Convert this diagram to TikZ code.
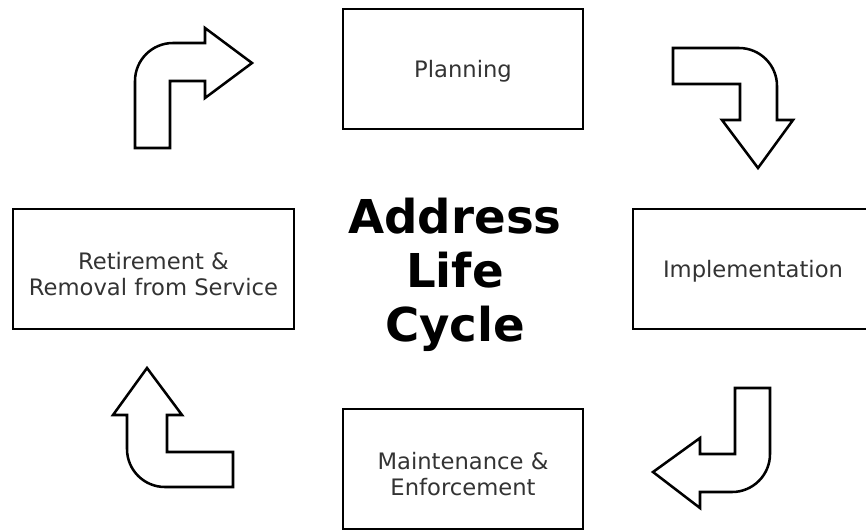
\documentclass[tikz,border=0pt]{standalone}
\usepackage{fontspec}
\setmainfont{DejaVu Sans}

\begin{document}
\begin{tikzpicture}[
    x=0.75pt, y=-0.75pt,
    stage/.style={rectangle, draw, line width=1.5pt, minimum width=180pt, minimum height=90pt, inner sep=0pt, align=center, text=black!80, text depth=-5pt, font=\fontsize{17}{20}\selectfont},
    bentarrow/.style={draw, line width=1.9pt, line join=miter, fill=white}
]
\useasboundingbox (0,0) rectangle (866,529);

% Title in the middle
\node[font=\fontsize{35}{40.5}\selectfont\bfseries, align=center] (title) at (455,275) {Address\\Life\\Cycle};

% Stages of the cycle
\node[stage] (planning) at (463,68.5) {Planning};
\node[stage] (implementation) at (753,268.5) {Implementation};
\node[stage] (maintenance) at (463,469) {\rule{0pt}{20pt}Maintenance \&\\Enforcement};
\node[stage, minimum width=210.75pt] (retirement) at (153.5,269) {\rule{0pt}{20pt}Retirement \&\\Removal from Service};

% Bent arrows between the stages
% top left: up, then right
\path[bentarrow] (170,148) -- (170,81) -- (205,81) -- (205,98) -- (252,63) -- (205,28) -- (205,43)
    -- (173,43) .. controls (152,43) and (135,60) .. (135,81) -- (135,148) -- cycle;

% top right: right, then down
\path[bentarrow] (673,48) -- (739,48) .. controls (760,48) and (777,65) .. (777,86) -- (777,120)
    -- (793,120) -- (758,168) -- (722,120) -- (740,120) -- (740,84) -- (673,84) -- cycle;

% bottom right: down, then left
\path[bentarrow] (735,388) -- (770,388) -- (770,454) .. controls (770,475) and (753,492) .. (732,492)
    -- (700,492) -- (700,508) -- (653,472) -- (700,438) -- (700,454) -- (735,454) -- cycle;

% bottom left: left, then up
\path[bentarrow] (233,452) -- (233,487) -- (165,487) .. controls (144,487) and (127,470) .. (127,449)
    -- (127,415) -- (113,415) -- (147,368) -- (182,415) -- (167,415) -- (167,452) -- cycle;

\end{tikzpicture}
\end{document}
